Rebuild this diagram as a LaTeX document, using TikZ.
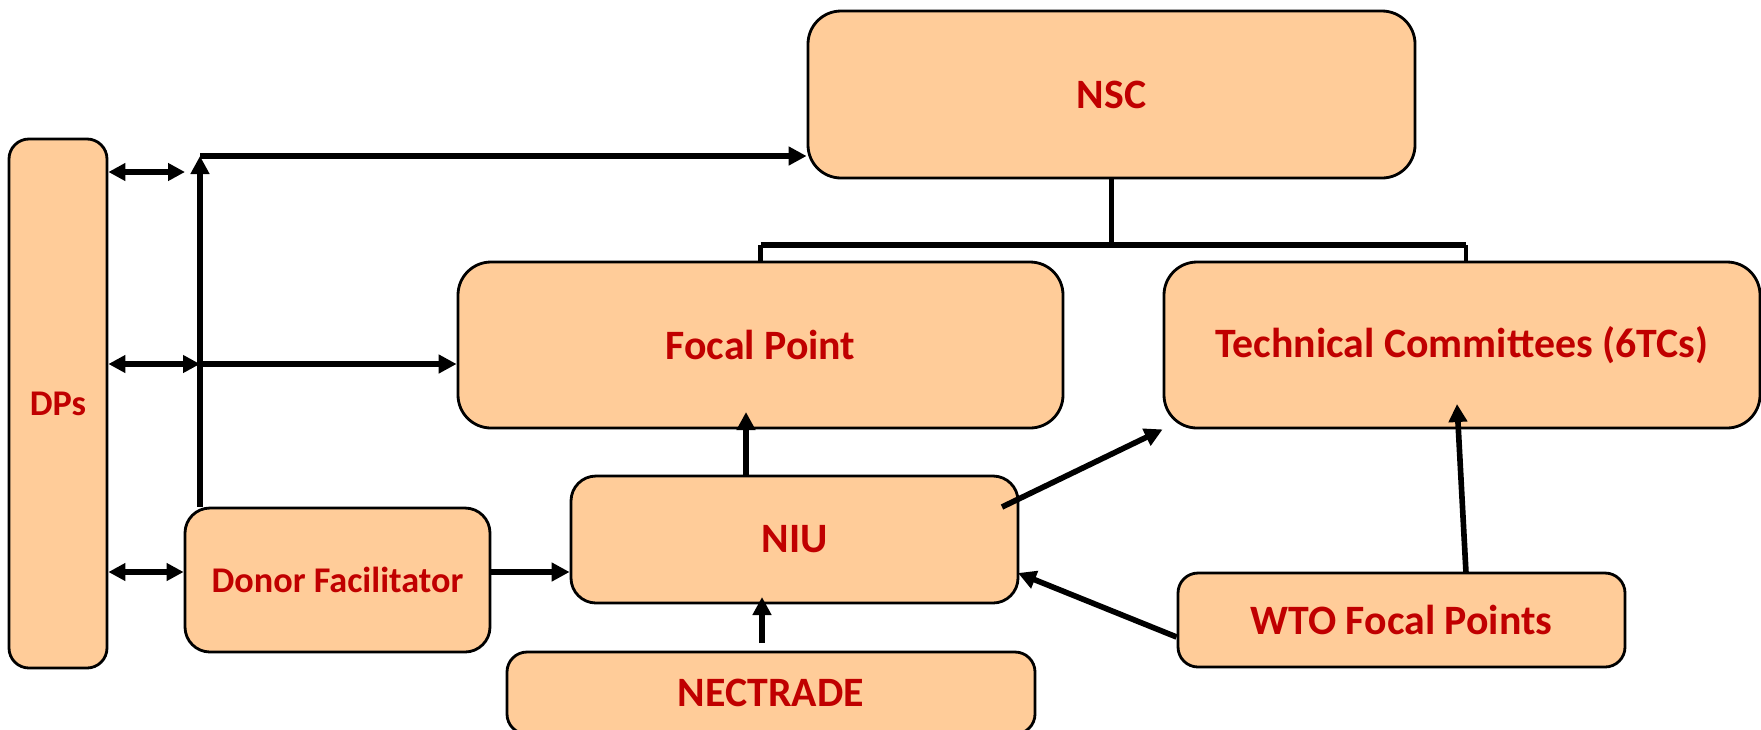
\documentclass[tikz,border=0pt]{standalone}
\usepackage{fontspec}
\setmainfont{Carlito}
\usetikzlibrary{arrows.meta,calc}
\definecolor{boxfill}{HTML}{FFCC99}
\definecolor{boxtext}{HTML}{C00000}
\tikzset{
	unit/.style={draw=black, line width=0.8pt, fill=boxfill, text=boxtext, rounded corners=0.25cm, inner sep=0pt, font=\fontsize{11.9}{14}\selectfont\bfseries},
	bigunit/.style={unit, rounded corners=0.33cm},
	smallunit/.style={unit, font=\fontsize{10.3}{12}\selectfont\bfseries},
	link/.style={line width=1.6pt, -{Triangle[length=0.18cm,width=0.18cm]}},
	twoway/.style={line width=1.5pt, {Triangle[length=0.17cm,width=0.17cm]}-{Triangle[length=0.17cm,width=0.17cm]}},
}

\begin{document}
\begin{tikzpicture}
			%%%%% START %%%%%
			\useasboundingbox (0, 0) rectangle (17.61, 7.29);
			
			\node[bigunit, minimum width=6.07cm, minimum height=1.67cm] (nsc) at (11.115, 6.345) {NSC};
			\node[bigunit, minimum width=6.05cm, minimum height=1.66cm] (focal) at (7.605, 3.84) {Focal Point};
			\node[bigunit, minimum width=5.96cm, minimum height=1.66cm] (tcs) at (14.62, 3.84) {Technical Committees (6TCs)};
			
			\node[smallunit, rounded corners=0.2cm, minimum width=0.98cm, minimum height=5.29cm] (dps) at (0.58, 3.255) {DPs};
			\node[smallunit, minimum width=3.05cm, minimum height=1.44cm] (donor) at (3.375, 1.49) {Donor Facilitator};
			\node[unit, minimum width=4.47cm, minimum height=1.27cm] (niu) at (7.945, 1.895) {NIU};
			\node[unit, rounded corners=0.2cm, minimum width=5.28cm, minimum height=0.82cm] (nectrade) at (7.71, 0.36) {NECTRADE};
			\node[unit, rounded corners=0.2cm, minimum width=4.47cm, minimum height=0.94cm] (wto) at (14.015, 1.09) {WTO Focal Points};
			
			% free ends
			\coordinate (dpstop) at (1.85, 5.57);
			\coordinate (spine) at (2.0, 3.65);
			\coordinate (spinetop) at (2.0, 5.73);
			\coordinate (donorin) at ($(donor.west)+(0, 0.08)$);
			\coordinate (bar) at (11.115, 4.84);
			\coordinate (barright) at (14.66, 4.84);
			\coordinate (focalin) at (7.46, 3.17);
			\coordinate (niuin) at (7.62, 1.32);
			\coordinate (nectout) at (7.62, 0.86);
			\coordinate (niuout) at (10.02, 2.22);
			\coordinate (niueast) at (10.18, 1.56);
			\coordinate (wtoout) at ($(wto.west)+(0, -0.17)$);
			\coordinate (wtotop) at (14.66, 1.56);
			\coordinate (tcsin) at (14.57, 3.25);
			
			% DPs side
			\draw[twoway] (dps.east |- dpstop) -- (dpstop);
			\draw[twoway] (dps.east |- spine) -- (spine);
			\draw[twoway] (dps.east |- donorin) -- (donorin);
			\draw[link] (spine |- donor.north) -- (spinetop);
			\draw[link] (spinetop) -- (nsc.west |- spinetop);
			\draw[link] (spine) -- (focal.west |- spine);
			
			% NSC tree
			\draw[line width=1.3pt] (nsc.south) -- (bar);
			\draw[line width=1.8pt] (focal.north |- bar) -- (barright);
			\draw[line width=1.3pt] (focal.north |- bar) -- (focal.north);
			\draw[line width=1.3pt] (barright) -- (tcs.north -| barright);
			
			% NIU links
			\draw[link] (donor.east |- donorin) -- (niu.west |- donorin);
			\draw[link] (niu.north -| focalin) -- (focalin);
			\draw[link] (nectout) -- (niuin);
			\draw[link] (niuout) -- (tcs.south west);
			\draw[link] (wtoout) -- (niueast);
			\draw[link] (wtotop) -- (tcsin);
			
			%%%%% END %%%%%
		\end{tikzpicture}
\end{document}
